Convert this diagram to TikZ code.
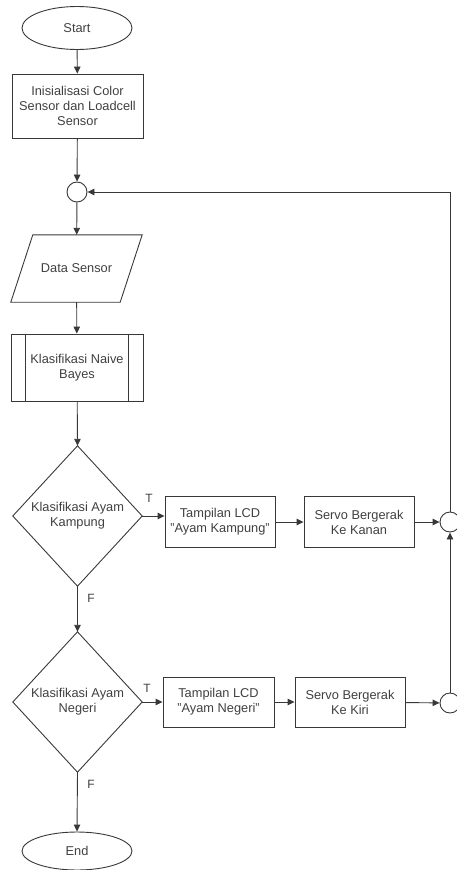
\documentclass[tikz,border=0pt]{standalone}
\usepackage{fontspec}
\setmainfont{Liberation Sans}
\usetikzlibrary{arrows.meta,shapes.geometric,calc}

\definecolor{linegray}{HTML}{383838}
\definecolor{textgray}{HTML}{404040}

\tikzset{
  every node/.style={font=\fontsize{12.8}{15}\selectfont, text=textgray, align=center, inner sep=0pt},
  outline/.style={draw=linegray, line width=0.9pt},
  flow/.style={draw=linegray, line width=0.9pt, -{Triangle[length=7pt,width=6.5pt]}},
  terminal/.style={outline, ellipse, minimum width=110pt, minimum height=43pt},
  procbox/.style={outline, rectangle, minimum width=110pt, minimum height=51pt},
  joint/.style={outline, circle, minimum size=20pt, fill=white},
  lbl/.style={font=\fontsize{12}{14}\selectfont}
}

\begin{document}
\begin{tikzpicture}[x=1pt, y=-1pt]
\useasboundingbox (0,0) rectangle (457,870);

% main column
\node[terminal] (start) at (77,28) {Start};
\node[outline, rectangle, minimum width=131pt, minimum height=64pt] (init) at (77.5,106)
  {Inisialisasi Color\\Sensor dan Loadcell\\Sensor};
\node[joint] (c1) at (77,192) {};

% input parallelogram
\node[rectangle, minimum width=131pt, minimum height=67pt] (data) at (76.5,268.5) {Data Sensor};
\draw[outline] ($(data.north west)+(22,0)$) -- (data.north east)
  -- ($(data.south east)+(-22,0)$) -- (data.south west) -- cycle;

% predefined process
\node[outline, rectangle, minimum width=132pt, minimum height=67pt] (nb) at (77,367.5)
  {Klasifikasi Naive\\Bayes};
\draw[outline] ($(nb.north west)+(15,0)$) -- ($(nb.south west)+(15,0)$);
\draw[outline] ($(nb.north east)+(-15,0)$) -- ($(nb.south east)+(-15,0)$);

% first decision
\node[rectangle, minimum width=129pt, minimum height=140pt] (d1) at (77.5,516) {Klasifikasi Ayam\\Kampung};
\draw[outline] (d1.north) -- (d1.east) -- (d1.south) -- (d1.west) -- cycle;
\node[procbox] (b1) at (220,522) {Tampilan LCD\\\char34 Ayam Kampung\char34};
\node[procbox] (b2) at (359,522) {Servo Bergerak\\Ke Kanan};
\node[joint] (c2) at (450,522) {};

% second decision
\node[rectangle, minimum width=129pt, minimum height=140pt] (d2) at (77.5,702) {Klasifikasi Ayam\\Negeri};
\draw[outline] (d2.north) -- (d2.east) -- (d2.south) -- (d2.west) -- cycle;
\node[procbox, minimum width=111pt, minimum height=50pt] (b3) at (218.5,702) {Tampilan LCD\\\char34 Ayam Negeri\char34};
\node[procbox, minimum height=50pt] (b4) at (350,702) {Servo Bergerak\\Ke Kiri};
\node[joint] (c3) at (450,703) {};

\node[terminal, minimum height=38pt] (end) at (77,851) {End};

% connectors
\draw[flow] (start) -- (init);
\draw[flow] (init) -- (c1);
\draw[flow] (c1) -- (data);
\draw[flow] (data) -- (nb);
\draw[flow] (nb) -- (d1.north);
\draw[flow] (d1.east) -- (d1.east -| b1.west);
\draw[flow] (b1) -- (b2);
\draw[flow] (b2) -- (c2);
\draw[flow] (c2.north) |- (c1.east);
\draw[flow] (d1.south) -- (d2.north);
\draw[flow] (d2.east) -- (d2.east -| b3.west);
\draw[flow] (b3) -- (b4);
\draw[flow] (b4) -- (c3);
\draw[flow] (c3.north) -- (c2.south);
\draw[flow] (d2.south) -- (end.north);

% branch labels
\node[lbl] (t1) at (149,498) {T};
\node[lbl] (f1) at (91,598) {F};
\node[lbl] (t2) at (147,688) {T};
\node[lbl] (f2) at (91,784) {F};
\end{tikzpicture}
\end{document}
